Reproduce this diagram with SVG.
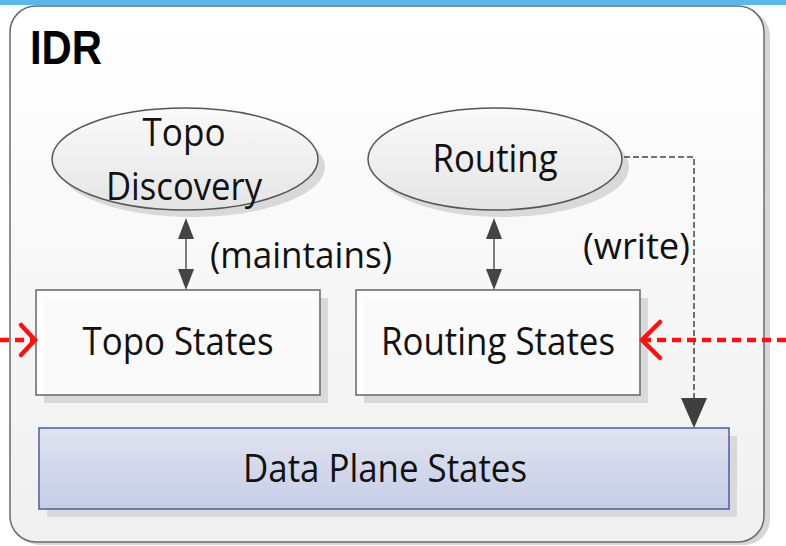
<svg xmlns="http://www.w3.org/2000/svg" width="786" height="546" viewBox="0 0 786 546">
  <style>
    .lbl { font-family: "Open Sans", "Liberation Sans", sans-serif; font-size: 39px; fill: #111; text-anchor: middle; }
    .note { font-family: "Open Sans", "Liberation Sans", sans-serif; font-size: 37px; fill: #111; }
    .box { fill: #ffffff; fill-opacity: 0.85; stroke: #666; stroke-width: 1.5; }
    .shadow { fill: #d9d9d9; }
    .link { stroke: #555; stroke-width: 1.5; fill: none; }
    .ext { stroke: #ff1010; stroke-width: 4.5; fill: none; stroke-dasharray: 9 6; }
    .tip { fill: #444; }
  </style>
  <defs>
    <linearGradient id="frameFill" x1="0" y1="0" x2="0" y2="1">
      <stop offset="0" stop-color="#ffffff"/>
      <stop offset="1" stop-color="#f0f0f0"/>
    </linearGradient>
    <linearGradient id="ovalFill" x1="0" y1="0" x2="0" y2="1">
      <stop offset="0" stop-color="#fafafa"/>
      <stop offset="1" stop-color="#e4e4e4"/>
    </linearGradient>
    <linearGradient id="planeFill" x1="0" y1="0" x2="0" y2="1">
      <stop offset="0" stop-color="#dfe3f0"/>
      <stop offset="1" stop-color="#c6cde6"/>
    </linearGradient>
  </defs>

  <!-- top band -->
  <rect x="0" y="0" width="786" height="5" fill="#5cb8ec"/>
  <path d="M740,5 L786,0 L786,3 Z" fill="#5cb8ec"/>

  <!-- IDR frame -->
  <g id="idr">
    <rect x="14" y="10" width="756" height="535" rx="26" fill="#d6d6d6"/>
    <rect x="10" y="6" width="754" height="536" rx="26" fill="url(#frameFill)" stroke="#6a6a6a" stroke-width="1.5"/>
    <text x="30" y="64" font-family="'Liberation Sans', sans-serif" font-weight="bold" font-size="48" fill="#000" textLength="72" lengthAdjust="spacingAndGlyphs">IDR</text>
  </g>

  <g id="topo-discovery">
    <ellipse cx="192" cy="167" rx="133" ry="50" class="shadow"/>
    <ellipse cx="185" cy="159" rx="133" ry="51" fill="url(#ovalFill)" stroke="#555" stroke-width="1.5"/>
    <text x="184" y="146" class="lbl" textLength="83" lengthAdjust="spacingAndGlyphs">Topo</text>
    <text x="184" y="200" class="lbl" textLength="156" lengthAdjust="spacingAndGlyphs">Discovery</text>
  </g>

  <g id="routing">
    <ellipse cx="502" cy="167" rx="127" ry="50" class="shadow"/>
    <ellipse cx="495" cy="159" rx="127" ry="51" fill="url(#ovalFill)" stroke="#555" stroke-width="1.5"/>
    <text x="495" y="172" class="lbl" textLength="125" lengthAdjust="spacingAndGlyphs">Routing</text>
  </g>

  <g id="topo-states">
    <rect x="44" y="298" width="284" height="105" class="shadow"/>
    <rect x="36" y="290" width="284" height="105" class="box"/>
    <text x="178" y="355" class="lbl" textLength="191" lengthAdjust="spacingAndGlyphs">Topo States</text>
  </g>

  <g id="routing-states">
    <rect x="364" y="298" width="284" height="105" class="shadow"/>
    <rect x="356" y="290" width="284" height="105" class="box"/>
    <text x="498" y="355" class="lbl" textLength="234" lengthAdjust="spacingAndGlyphs">Routing States</text>
  </g>

  <g id="data-plane-states">
    <rect x="47" y="436" width="690" height="81" class="shadow"/>
    <rect x="39" y="428" width="690" height="81" fill="url(#planeFill)" stroke="#4f5c9c" stroke-width="1.5"/>
    <text x="385" y="482" class="lbl" textLength="284" lengthAdjust="spacingAndGlyphs">Data Plane States</text>
  </g>

  <g id="connectors">
    <!-- maintains -->
    <line x1="186" y1="230" x2="186" y2="278" class="link"/>
    <path d="M178,239 L186,218 L194,239 Z" class="tip"/>
    <path d="M178,269 L186,290 L194,269 Z" class="tip"/>
    <text x="210" y="268" class="note" textLength="182" lengthAdjust="spacingAndGlyphs">(maintains)</text>

    <line x1="494" y1="230" x2="494" y2="278" class="link"/>
    <path d="M486,239 L494,218 L502,239 Z" class="tip"/>
    <path d="M486,269 L494,290 L502,269 Z" class="tip"/>

    <!-- write -->
    <path d="M624,157 L694,157 L694,402" stroke="#444" stroke-width="1.5" fill="none" stroke-dasharray="6 3"/>
    <path d="M681,398 L707,398 L694,428 Z" fill="#3f3f3f"/>
    <text x="583" y="259" class="note" textLength="107" lengthAdjust="spacingAndGlyphs">(write)</text>

    <!-- external inputs -->
    <line x1="0" y1="340" x2="33" y2="340" class="ext"/>
    <path d="M21,325 L35,340 L21,355" stroke="#ff1010" stroke-width="4.5" fill="none" stroke-linecap="round"/>
    <line x1="786" y1="340" x2="645" y2="340" class="ext"/>
    <path d="M660,322 L642,340 L660,358" stroke="#ff1010" stroke-width="4.5" fill="none" stroke-linecap="round"/>
  </g>
</svg>
